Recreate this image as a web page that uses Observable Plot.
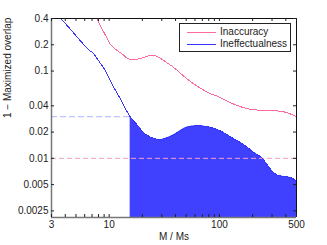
<!DOCTYPE html>
<html>
<head>
<meta charset="utf-8">
<script src="https://cdn.jsdelivr.net/npm/d3@7"></script>
<script src="https://cdn.jsdelivr.net/npm/@observablehq/plot@0.6"></script>
<style>
  html, body { margin: 0; padding: 0; background: white; }
  #wrap { position: relative; width: 327px; height: 245px; font-family: "Liberation Sans", Arial, sans-serif; }
  #legend { position: absolute; left: 179px; top: 23px; width: 110px; height: 27px; border: 1px solid #222; background: white; font-size: 10px; color: #222; }
  .row { position: absolute; left: 0; width: 110px; height: 12px; line-height: 12px; white-space: nowrap; }
  .row span.sw { position: absolute; left: 7px; top: 6px; width: 29px; height: 1px; }
  .row span.tx { position: absolute; left: 40px; top: 0; }
</style>
</head>
<body>
<div id="wrap"></div>
<script>
// ---- data ----
const xDomain = [3, 500];
const yDomain = [0.0021, 0.4];
const xTickLabels = [3, 10, 100, 500];
const xMinorTicks = [4, 5, 6, 7, 8, 9, 20, 30, 40, 50, 60, 70, 80, 90, 200, 300, 400];
const yTickLabels = [0.0025, 0.005, 0.01, 0.02, 0.04, 0.1, 0.2, 0.4];
const xLabel = "M / Ms";
const yLabel = "1 − Maximized overlap";

const inaccX = [7.7, 8.3, 9.2, 10.2, 11.6, 13.2, 14.5, 16.2, 19, 24.5, 33.6, 41.4, 47.6, 63, 83, 96, 130, 180, 238, 300, 350, 420, 500];
const inaccY = [0.4, 0.333, 0.261, 0.205, 0.175, 0.156, 0.141, 0.134, 0.139, 0.152, 0.124, 0.102, 0.087, 0.067, 0.055, 0.0515, 0.0426, 0.037, 0.0355, 0.035, 0.0348, 0.033, 0.030];

const ineffX = [3.65, 4.5, 5.45, 6.7, 7.2, 7.7, 9.4, 10.2, 12.2, 15.5, 18, 20.5, 23.7, 28.8, 33.6, 41.4, 51, 63, 80, 103, 130, 156, 207, 245, 293, 337, 388, 447, 500];
const ineffY = [0.4, 0.297, 0.224, 0.17, 0.16, 0.141, 0.097, 0.078, 0.052, 0.03, 0.024, 0.0197, 0.0175, 0.0164, 0.0172, 0.0197, 0.0228, 0.0236, 0.0229, 0.0205, 0.0172, 0.0151, 0.0116, 0.01, 0.0074, 0.0064, 0.0062, 0.006, 0.0055];

const fillStart = 15.5;      // filled region begins here
const thresholdHigh = 0.03;  // blue dashed reference
const thresholdLow = 0.01;   // pink dashed reference

const seriesNames = ["Inaccuracy", "Ineffectualness"];
const pinkC = "#ff6b98";
const blueC = "#3535ff";

const inacc = inaccX.map((x, i) => ({x, y: inaccY[i]}));
const ineff = ineffX.map((x, i) => ({x, y: ineffY[i]}));
const fillData = ineff.filter(d => d.x >= fillStart);

const plotH = 245 - 18 - 28;
const plotW = 327 - 51 - 31;
const tick = 3;
const allXTicks = xTickLabels.concat(xMinorTicks);

const chart = Plot.plot({
  width: 327, height: 245,
  marginLeft: 51, marginRight: 31, marginTop: 18, marginBottom: 28,
  style: { fontFamily: "Liberation Sans, Arial, sans-serif", fontSize: "10px", color: "#222", background: "white", overflow: "visible" },
  x: { type: "log", domain: xDomain, axis: null },
  y: { type: "log", domain: yDomain, axis: null },
  marks: [
    Plot.areaY(fillData, { x: "x", y1: yDomain[0], y2: "y", fill: "#4040ff", curve: "monotone-x" }),
    Plot.ruleY([thresholdLow], { stroke: "#f4a0c6", strokeDasharray: "5,3" }),
    Plot.ruleY([thresholdHigh], { x1: xDomain[0], x2: fillStart, stroke: "#b0b2ff", strokeDasharray: "6,3" }),
    Plot.line(inacc, { x: "x", y: "y", stroke: pinkC, strokeWidth: 1, curve: "monotone-x", shapeRendering: "crispEdges" }),
    Plot.line(ineff, { x: "x", y: "y", stroke: blueC, strokeWidth: 1, curve: "monotone-x", shapeRendering: "crispEdges" }),
    // frame
    Plot.ruleY([yDomain[1]], { stroke: "#111", strokeWidth: 1 }),
    Plot.ruleX([xDomain[1]], { stroke: "#111", strokeWidth: 1 }),
    Plot.ruleX([xDomain[0]], { stroke: "#777", strokeWidth: 1.5 }),
    Plot.ruleY([yDomain[0]], { stroke: "#777", strokeWidth: 1.5 }),
    // inside ticks
    Plot.tickX(allXTicks, { x: d => d, stroke: "#222", insetTop: plotH - tick }),
    Plot.tickX(allXTicks, { x: d => d, stroke: "#222", insetBottom: plotH - tick }),
    Plot.tickY(yTickLabels, { y: d => d, stroke: "#222", insetRight: plotW - tick }),
    Plot.tickY(yTickLabels, { y: d => d, stroke: "#222", insetLeft: plotW - tick }),
    // tick labels
    Plot.text(xTickLabels, { x: d => d, text: d => String(d), frameAnchor: "bottom", dy: 10.5, fill: "#222" }),
    Plot.text(yTickLabels, { y: d => d, text: d => String(d), frameAnchor: "left", textAnchor: "end", dx: -3, fill: "#222" }),
    // axis titles
    Plot.text([xLabel], { text: d => d, frameAnchor: "bottom", dy: 22, fill: "#222" }),
    Plot.text([yLabel], { text: d => d, frameAnchor: "left", rotate: -90, dx: -44, fill: "#222" })
  ]
});

const wrap = document.getElementById("wrap");
wrap.appendChild(chart);

const legend = document.createElement("div");
legend.id = "legend";
[[seriesNames[0], pinkC], [seriesNames[1], blueC]].forEach(([name, c], i) => {
  const row = document.createElement("div");
  row.className = "row";
  row.style.top = (2 + i * 11.5) + "px";
  const sw = document.createElement("span");
  sw.className = "sw";
  sw.style.background = c;
  const tx = document.createElement("span");
  tx.className = "tx";
  tx.textContent = name;
  row.appendChild(sw);
  row.appendChild(tx);
  legend.appendChild(row);
});
wrap.appendChild(legend);
</script>
</body>
</html>
